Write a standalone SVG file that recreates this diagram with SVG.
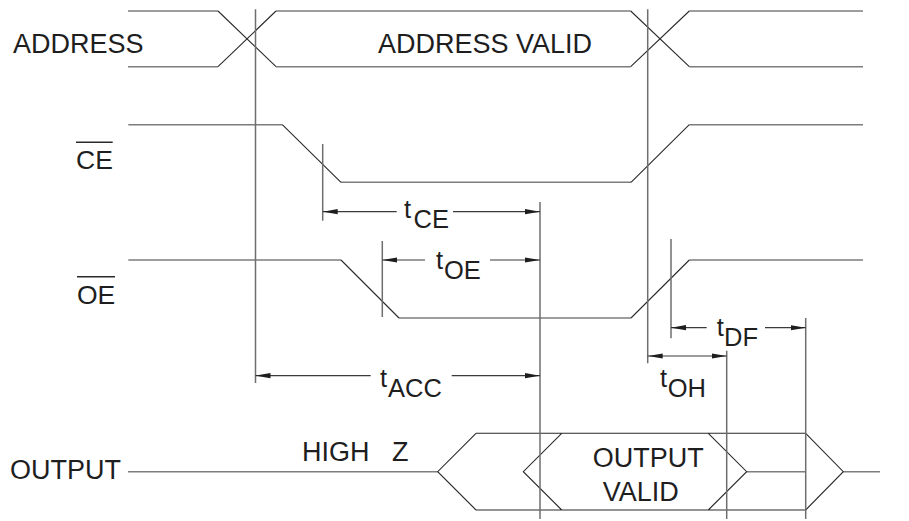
<svg xmlns="http://www.w3.org/2000/svg" width="909" height="521" viewBox="0 0 909 521">
  <style>
    .h { fill: none; stroke: #7d7d7d; stroke-width: 1.6; }
    .d { fill: none; stroke: #2a2a2a; stroke-width: 1.1; }
    .v { fill: none; stroke: #6e6e6e; stroke-width: 1.5; }
    .a { fill: none; stroke: #3a3a3a; stroke-width: 1.2; }
    .ol { fill: none; stroke: #2a2a2a; stroke-width: 1.4; }
    .lbl { font-family: "Liberation Sans", Arial, sans-serif; font-size: 27px; fill: #1e1e1e; }
    .sig { font-family: "Liberation Sans", Arial, sans-serif; font-size: 26.5px; fill: #1e1e1e; }
    .tm { font-family: "Liberation Sans", Arial, sans-serif; font-size: 25.5px; fill: #1e1e1e; }
  </style>
  <defs>
    <marker id="arr" viewBox="0 0 15 6" refX="15" refY="3" markerWidth="15" markerHeight="6" markerUnits="userSpaceOnUse" orient="auto-start-reverse">
      <path d="M0,0.4 L15,3 L0,5.6 z" fill="#1e1e1e"/>
    </marker>
  </defs>

  <rect width="909" height="521" fill="#ffffff"/>

  <g id="address">
    <text class="lbl" x="13" y="52.5">ADDRESS</text>
    <path class="h" d="M128,11 H218 M128,66.7 H218 M276,11 H630.7 M276,66.7 H630.7 M689.3,11 H863 M689.3,66.7 H863"/>
    <path class="d" d="M218,11 L276,66.7 M218,66.7 L276,11 M630.7,11 L689.3,66.7 M630.7,66.7 L689.3,11"/>
    <text class="lbl" x="378" y="52.7">ADDRESS VALID</text>
  </g>

  <g id="ce">
    <text class="sig" x="76" y="169.3">CE</text>
    <line class="ol" x1="76" y1="142.3" x2="112.7" y2="142.3"/>
    <path class="h" d="M128.3,124.7 H282.3 M341,182.3 H631 M689.3,124.7 H863"/>
    <path class="d" d="M282.3,124.7 L341,182.3 M631,182.3 L689.3,124.7"/>
  </g>

  <g id="oe">
    <text class="sig" x="77" y="304">OE</text>
    <line class="ol" x1="77" y1="276.7" x2="115" y2="276.7"/>
    <path class="h" d="M128.3,260 H341 M399,318 H631 M689.3,260 H863"/>
    <path class="d" d="M341,260 L399,318 M631,318 L689.3,260"/>
  </g>

  <g id="output">
    <text class="lbl" x="10" y="479">OUTPUT</text>
    <text class="lbl" x="302" y="460.7" xml:space="preserve">HIGH   Z</text>
    <path class="h" d="M128,471.7 H437.7 M746.7,471.7 H805.7 M843.3,471.7 H880"/>
    <path class="d" d="M476,433.3 L437.7,471.7 L476,510 M476,433.3 H805.7 M476,510 H805.7 M561.7,433.3 L523.3,471.7 L561.7,510 M708.3,433.3 L746.7,471.7 L708.3,510 M805.7,433.3 L843.3,471.7 L805.7,510"/>
    <text class="lbl" x="592.7" y="466.7">OUTPUT</text>
    <text class="lbl" x="602.7" y="500.7">VALID</text>
  </g>

  <g id="connectors">
    <g id="reference-lines">
      <line class="v" x1="255.5" y1="9.3" x2="255.5" y2="383"/>
      <line class="v" x1="647.7" y1="9.3" x2="647.7" y2="363.3"/>
      <line class="v" x1="322.7" y1="144" x2="322.7" y2="220.7"/>
      <line class="v" x1="382.3" y1="241" x2="382.3" y2="317"/>
      <line class="v" x1="540" y1="202" x2="540" y2="519"/>
      <line class="v" x1="671" y1="239" x2="671" y2="338.3"/>
      <line class="v" x1="726.7" y1="350.7" x2="726.7" y2="519"/>
      <line class="v" x1="805.7" y1="318" x2="805.7" y2="519"/>
    </g>
    <g id="t-ce">
      <line class="a" x1="396.7" y1="211.7" x2="322.7" y2="211.7" marker-end="url(#arr)"/>
      <line class="a" x1="453" y1="211.7" x2="540" y2="211.7" marker-end="url(#arr)"/>
      <text class="tm" x="404" y="218">t<tspan x="413.5" y="228">CE</tspan></text>
    </g>
    <g id="t-oe">
      <line class="a" x1="425" y1="260" x2="382.3" y2="260" marker-end="url(#arr)"/>
      <line class="a" x1="490" y1="260" x2="540" y2="260" marker-end="url(#arr)"/>
      <text class="tm" x="436" y="269">t<tspan x="444" y="279">OE</tspan></text>
    </g>
    <g id="t-acc">
      <line class="a" x1="370.7" y1="375.7" x2="255.5" y2="375.7" marker-end="url(#arr)"/>
      <line class="a" x1="451.7" y1="375.7" x2="540" y2="375.7" marker-end="url(#arr)"/>
      <text class="tm" x="380" y="386.7">t<tspan x="388" y="396.7">ACC</tspan></text>
    </g>
    <g id="t-df">
      <line class="a" x1="706.7" y1="327.7" x2="671" y2="327.7" marker-end="url(#arr)"/>
      <line class="a" x1="765" y1="327.7" x2="805.7" y2="327.7" marker-end="url(#arr)"/>
      <text class="tm" x="716.7" y="336">t<tspan x="724" y="346">DF</tspan></text>
    </g>
    <g id="t-oh">
      <line class="a" x1="647.7" y1="356" x2="726.7" y2="356" marker-start="url(#arr)" marker-end="url(#arr)"/>
      <text class="tm" x="660" y="386.7">t<tspan x="667.7" y="396.7">OH</tspan></text>
    </g>
  </g>
</svg>
